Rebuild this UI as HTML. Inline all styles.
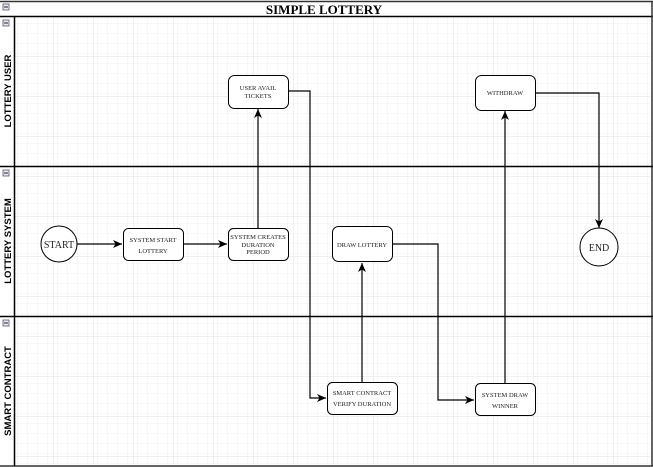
<!DOCTYPE html>
<html><head><style>html,body{margin:0;padding:0;background:#fff}svg{display:block}</style></head>
<body>
<svg width="653" height="467" viewBox="0 0 653 467" xmlns="http://www.w3.org/2000/svg" font-family="Liberation Serif, serif">
<defs>
<pattern id="g" width="10" height="10" patternUnits="userSpaceOnUse" x="14" y="17">
<path d="M10 0V10M0 10H10" fill="none" stroke="#efefef" stroke-width="1"/>
</pattern>
<pattern id="G" width="40" height="40" patternUnits="userSpaceOnUse" x="14" y="17">
<rect width="40" height="40" fill="url(#g)"/>
<path d="M40 0V40M0 40H40" fill="none" stroke="#e2e2e2" stroke-width="1"/>
</pattern>
<marker id="a" markerWidth="10" markerHeight="10" refX="9" refY="5" orient="auto" markerUnits="userSpaceOnUse">
<path d="M0 1L9 5L0 9L2.5 5Z" fill="#000"/>
</marker>
</defs>
<rect x="0" y="0" width="653" height="467" fill="#fff"/>
<rect x="14" y="17" width="638" height="449" fill="url(#G)"/>
<!-- frame -->
<line x1="0" y1="1.5" x2="653" y2="1.5" stroke="#333" stroke-width="1.5"/>
<line x1="0" y1="16.5" x2="653" y2="16.5" stroke="#000" stroke-width="1.5"/>
<line x1="652" y1="1" x2="652" y2="466" stroke="#333" stroke-width="1.5"/>
<line x1="0" y1="466" x2="653" y2="466" stroke="#333" stroke-width="1.5"/>
<line x1="14.5" y1="17" x2="14.5" y2="466" stroke="#000" stroke-width="1.5"/>
<line x1="0" y1="166.5" x2="653" y2="166.5" stroke="#000" stroke-width="1.5"/>
<line x1="0" y1="316.5" x2="653" y2="316.5" stroke="#000" stroke-width="1.5"/>
<text x="324" y="14" text-anchor="middle" font-size="13" font-weight="bold">SIMPLE LOTTERY</text>
<!-- collapse icons -->
<g fill="#e8e8f0" stroke="#556" stroke-width="0.8">
<rect x="3" y="4" width="6" height="6"/><rect x="3" y="20" width="6" height="6"/><rect x="3" y="170" width="6" height="6"/><rect x="3" y="320" width="6" height="6"/>
</g>
<g stroke="#223" stroke-width="1"><path d="M4 7H8M4 23H8M4 173H8M4 323H8"/></g>
<g font-family="Liberation Sans, sans-serif" font-weight="bold" font-size="9.5" text-anchor="middle">
<text transform="translate(11,91) rotate(-90)">LOTTERY USER</text>
<text transform="translate(11,241) rotate(-90)">LOTTERY SYSTEM</text>
<text transform="translate(11,391) rotate(-90)">SMART CONTRACT</text>
</g>
<!-- connectors -->
<g fill="none" stroke="#000" stroke-width="1.2">
<path d="M77 244H122" marker-end="url(#a)"/>
<path d="M183 244H227" marker-end="url(#a)"/>
<path d="M258 228V109" marker-end="url(#a)"/>
<path d="M288 91H310V398H326" marker-end="url(#a)"/>
<path d="M362 382V263" marker-end="url(#a)"/>
<path d="M392 244H438V400H474" marker-end="url(#a)"/>
<path d="M505 383V111" marker-end="url(#a)"/>
<path d="M535 93H599V228" marker-end="url(#a)"/>
</g>
<!-- nodes -->
<g fill="#fff" stroke="#000" stroke-width="1">
<circle cx="59" cy="244" r="18"/>
<circle cx="599" cy="247" r="19"/>
<rect x="228.5" y="75.5" width="60" height="33" rx="6"/>
<rect x="123.5" y="228.5" width="60" height="32" rx="5"/>
<rect x="228.5" y="228.5" width="60" height="32" rx="5"/>
<rect x="332.5" y="226.5" width="60" height="35" rx="6"/>
<rect x="327.5" y="382.5" width="70" height="32" rx="5"/>
<rect x="475.5" y="383.5" width="60" height="32" rx="5"/>
<rect x="475.5" y="75.5" width="60" height="35" rx="6"/>
</g>
<g font-size="6.5" text-anchor="middle" fill="#222">
<text x="59" y="248" font-size="10">START</text>
<text x="599" y="251" font-size="10">END</text>
<text x="258" y="90">USER AVAIL</text><text x="258" y="98">TICKETS</text>
<text x="153" y="242">SYSTEM START</text><text x="153" y="253">LOTTERY</text>
<text x="258" y="239">SYSTEM CREATES</text><text x="258" y="247">DURATION</text><text x="258" y="254">PERIOD</text>
<text x="362" y="247">DRAW LOTTERY</text>
<text x="362" y="395">SMART CONTRACT</text><text x="362" y="406">VERIFY DURATION</text>
<text x="505" y="397">SYSTEM DRAW</text><text x="505" y="408">WINNER</text>
<text x="505" y="95">WITHDRAW</text>
</g>
</svg>
</body></html>
